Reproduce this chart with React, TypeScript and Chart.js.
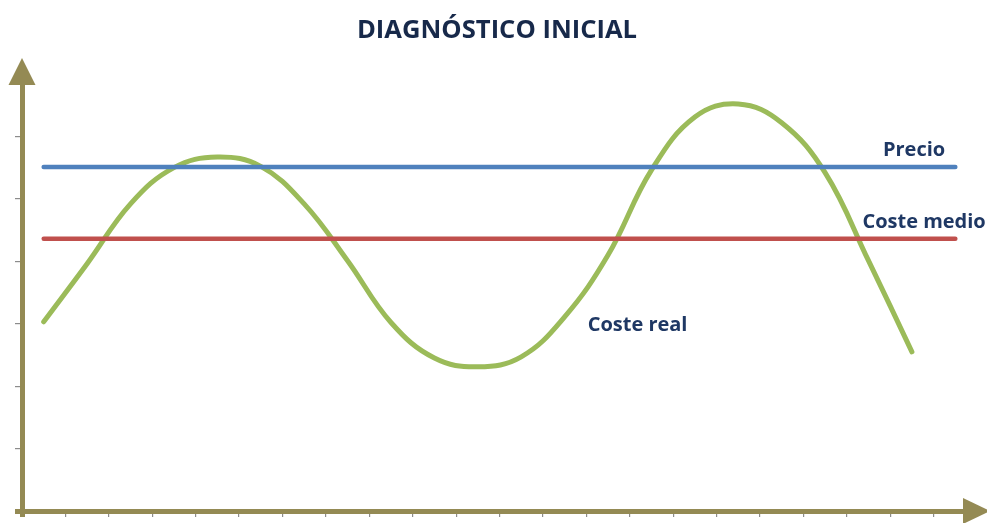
import React, { useEffect, useRef } from "react";
import { Chart, registerables } from "chart.js";

Chart.register(...registerables);

const TITLE = "DIAGNÓSTICO INICIAL";

// Category positions (centres of the slots between tick marks)
const realX = [0.5, 1.5, 2.5, 3.5, 4.5, 5.5, 6.5, 7.5, 8.5, 9.5, 10.5, 11.5, 12.5, 13.5, 14.5, 15.5, 16.5, 17.5, 18.5, 19.5, 20.5];
const costeReal = [3.03, 3.96, 4.92, 5.5, 5.67, 5.52, 4.92, 4.01, 3.02, 2.45, 2.31, 2.47, 3.11, 4.1, 5.46, 6.31, 6.52, 6.22, 5.42, 4.01, 2.55];

const flatX = [0.5, 21.5];
const precio = [5.51, 5.51];
const costeMedio = [4.36, 4.36];

const xTicks = [0, 1, 2, 3, 4, 5, 6, 7, 8, 9, 10, 11, 12, 13, 14, 15, 16, 17, 18, 19, 20, 21];
const yTicks = [0, 1, 2, 3, 4, 5, 6];
const X_MAX = 21.7;
const Y_MAX = 6.84;

// Series labels: [text, x, y]
const seriesLabels: [string, number, number][] = [
  ["Precio", 20.55, 5.77],
  ["Coste medio", 20.78, 4.63],
  ["Coste real", 14.18, 2.98],
];

const AXIS = "#948A54";
const TICK = "#8c8c8c";
const TEXT = "#1F3864";
const TITLE_COLOR = "#17294A";

const decorPlugin = {
  id: "decor",
  afterDraw(chart: any) {
    const { ctx, chartArea, scales } = chart;
    ctx.save();
    ctx.fillStyle = AXIS;
    // Y arrow
    const ax = chartArea.left;
    ctx.beginPath();
    ctx.moveTo(ax, chartArea.top - 26);
    ctx.lineTo(ax - 13.5, chartArea.top + 1);
    ctx.lineTo(ax + 13.5, chartArea.top + 1);
    ctx.closePath();
    ctx.fill();
    // X arrow
    const ay = chartArea.bottom;
    ctx.beginPath();
    ctx.moveTo(chartArea.right + 26, ay);
    ctx.lineTo(chartArea.right - 1, ay - 13);
    ctx.lineTo(chartArea.right - 1, ay + 13);
    ctx.closePath();
    ctx.fill();
    // Title
    ctx.fillStyle = TITLE_COLOR;
    ctx.font = "bold 25.6px 'Open Sans'";
    ctx.textAlign = "center";
    ctx.textBaseline = "alphabetic";
    ctx.fillText(TITLE, 497, 37.5);
    // Series labels
    ctx.fillStyle = TEXT;
    ctx.font = "bold 20px 'Open Sans'";
    ctx.textAlign = "center";
    ctx.textBaseline = "middle";
    for (const [t, x, y] of seriesLabels) {
      ctx.fillText(t, scales.x.getPixelForValue(x), scales.y.getPixelForValue(y));
    }
    ctx.restore();
  },
};

export default function App() {
  const ref = useRef<HTMLCanvasElement>(null);
  useEffect(() => {
    document.body.style.margin = "0";
    const chart = new Chart(ref.current!, {
      type: "line",
      data: {
        datasets: [
          {
            label: "Precio",
            data: flatX.map((x, i) => ({ x, y: precio[i] })),
            borderColor: "#4F81BD",
            borderWidth: 4.5,
            borderCapStyle: "round",
            pointRadius: 0,
          },
          {
            label: "Coste medio",
            data: flatX.map((x, i) => ({ x, y: costeMedio[i] })),
            borderColor: "#C0504D",
            borderWidth: 4.5,
            borderCapStyle: "round",
            pointRadius: 0,
          },
          {
            label: "Coste real",
            data: realX.map((x, i) => ({ x, y: costeReal[i] })),
            borderColor: "#9BBB59",
            borderWidth: 5,
            borderCapStyle: "round",
            borderJoinStyle: "round",
            tension: 0.4,
            pointRadius: 0,
          },
        ],
      },
      options: {
        responsive: false,
        animation: false,
        layout: { padding: { left: 15, right: 23, top: 84, bottom: 6 } },
        plugins: {
          legend: { display: false },
          tooltip: { enabled: false },
          title: { display: false },
        },
        scales: {
          x: {
            type: "linear",
            min: 0,
            max: X_MAX,
            afterBuildTicks: (s: any) => {
              s.ticks = xTicks.map((v) => ({ value: v }));
            },
            ticks: { display: false },
            grid: {
              drawOnChartArea: false,
              drawTicks: true,
              tickLength: 6,
              color: (c: any) => (c.index === 0 ? AXIS : TICK),
              lineWidth: (c: any) => (c.index === 0 ? 5 : 1.2),
            },
            border: { display: true, color: AXIS, width: 5 },
          },
          y: {
            type: "linear",
            min: 0,
            max: Y_MAX,
            afterBuildTicks: (s: any) => {
              s.ticks = yTicks.map((v) => ({ value: v }));
            },
            ticks: { display: false },
            grid: {
              drawOnChartArea: false,
              drawTicks: true,
              tickLength: 7,
              color: (c: any) => (c.index === 0 ? AXIS : TICK),
              lineWidth: (c: any) => (c.index === 0 ? 5 : 1.2),
            },
            border: { display: true, color: AXIS, width: 5 },
          },
        },
      },
      plugins: [decorPlugin],
    } as any);
    return () => chart.destroy();
  }, []);
  return (
    <div style={{ position: "absolute", left: 0, top: 0, width: 987, height: 523 }}>
      <canvas ref={ref} width={987} height={523} style={{ display: "block" }} />
    </div>
  );
}
